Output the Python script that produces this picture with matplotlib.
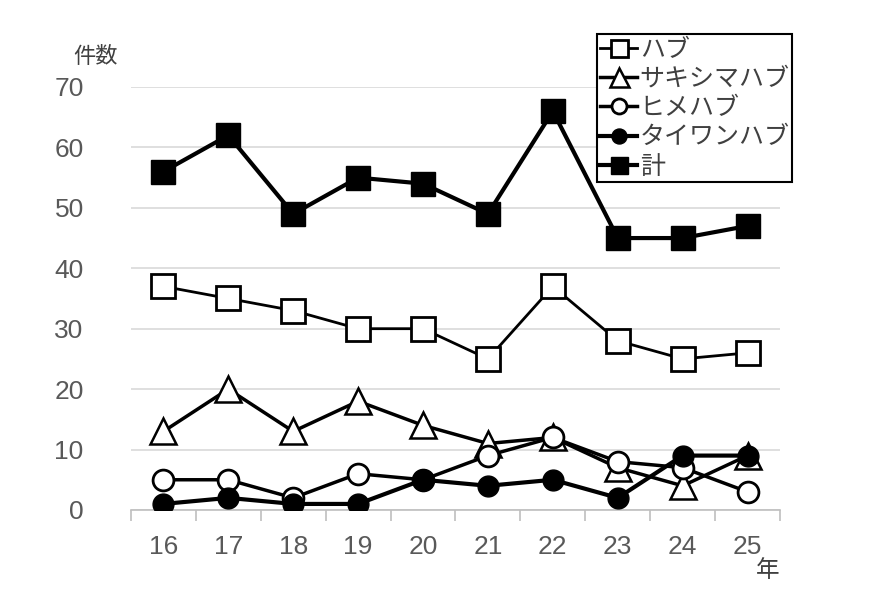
import matplotlib
matplotlib.use("Agg")
import matplotlib.pyplot as plt

plt.rcParams['font.family'] = ['Liberation Sans', 'Noto Sans CJK JP', 'DejaVu Sans']

years = ['16', '17', '18', '19', '20', '21', '22', '23', '24', '25']
habu = [37, 35, 33, 30, 30, 25, 37, 28, 25, 26]
sakishima = [13, 20, 13, 18, 14, 11, 12, 7, 4, 9]
hime = [5, 5, 2, 6, 5, 9, 12, 8, 7, 3]
taiwan = [1, 2, 1, 1, 5, 4, 5, 2, 9, 9]
total = [56, 62, 49, 55, 54, 49, 66, 45, 45, 47]

fig = plt.figure(figsize=(8.73, 5.95), dpi=100)
ax = fig.add_axes([0.150, 0.1429, 0.7435, 0.7109])

x = list(range(len(years)))

ax.plot(x, habu, color='black', lw=2, marker='s', ms=17, mfc='white',
        mec='black', mew=2, label='ハブ', zorder=3)
ax.plot(x, sakishima, color='black', lw=2.5, marker='^', ms=19, mfc='white',
        mec='black', mew=1.8, label='サキシマハブ', zorder=4)
ax.plot(x, hime, color='black', lw=2.5, marker='o', ms=15, mfc='white',
        mec='black', mew=2, label='ヒメハブ', zorder=5)
ax.plot(x, taiwan, color='black', lw=3, marker='o', ms=15, mfc='black',
        mec='black', label='タイワンハブ', zorder=6)
ax.plot(x, total, color='black', lw=3, marker='s', ms=17, mfc='black',
        mec='black', label='計', zorder=3)

ax.set_xlim(-0.5, 9.5)
ax.set_ylim(0, 70)
ax.set_yticks(range(0, 71, 10))
ax.set_xticks(x)
ax.set_xticklabels(years)
ax.set_xticks([i - 0.5 for i in range(11)], minor=True)
ax.tick_params(axis='x', which='major', length=0, pad=18, labelsize=19, labelcolor='#595959')
ax.tick_params(axis='x', which='minor', length=8, color='#bfbfbf', width=1.2)
ax.tick_params(axis='y', length=0, pad=34, labelsize=19, labelcolor='#595959')
for lab in ax.get_yticklabels():
    lab.set_horizontalalignment('right')

ax.grid(axis='y', color='#d9d9d9', lw=1.2)
ax.set_axisbelow(True)
for s in ['top', 'right', 'left']:
    ax.spines[s].set_visible(False)
ax.spines['bottom'].set_color('#bfbfbf')
ax.spines['bottom'].set_linewidth(1.2)

fig.text(0.084, 0.905, '件数', fontsize=16, color='#404040',
         family=['Noto Sans CJK JP'], ha='left', va='center')
fig.text(0.866, 0.042, '年', fontsize=17, color='#404040',
         family=['Noto Sans CJK JP'], ha='left', va='center')

leg = ax.legend(loc='upper left', bbox_to_anchor=(0.7185, 1.125), frameon=True,
                fancybox=False, edgecolor='black', framealpha=1,
                prop={'family': ['Noto Sans CJK JP'], 'size': 18},
                handlelength=1.5, handletextpad=0.1, labelspacing=0.13,
                borderpad=0.1, borderaxespad=0, markerscale=0.72)
leg.get_frame().set_linewidth(1.5)
for t in leg.get_texts():
    t.set_color('#404040')

fig.savefig('out.png', dpi=100)
